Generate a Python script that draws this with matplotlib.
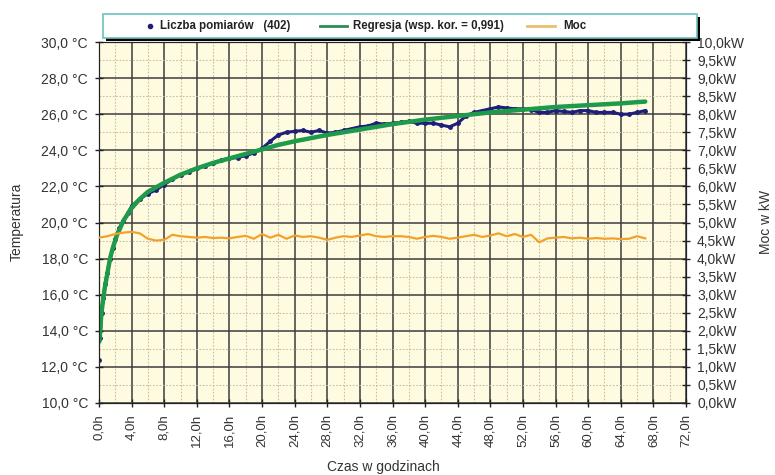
import matplotlib
matplotlib.use("Agg")
import matplotlib.pyplot as plt
from matplotlib.lines import Line2D
from matplotlib.patches import Rectangle

plt.rcParams["font.family"] = ["Liberation Sans", "DejaVu Sans"]

# --- dane ---
# pomiary temperatury (czas w h, temperatura w °C)
t_meas = [0.0, 0.17, 0.33, 0.5, 0.75, 1.0, 1.35, 1.7, 2.0, 2.5, 3.0, 3.5,
          4.0, 5.0, 6.0, 7.0, 8.0, 9.0, 10.0, 11.0, 12.0, 13.0, 14.0, 15.0,
          16.0, 17.0, 18.0, 19.0, 20.0, 21.0, 22.0, 23.0, 24.0, 25.0, 26.0,
          27.0, 28.0, 29.0, 30.0, 31.0, 32.0, 33.0, 34.0, 35.0, 36.0, 37.0,
          38.0, 39.0, 40.0, 41.0, 42.0, 43.0, 44.0, 45.0, 46.0, 47.0, 48.0,
          49.0, 50.0, 51.0, 52.0, 53.0, 54.0, 55.0, 56.0, 57.0, 58.0, 59.0,
          60.0, 61.0, 62.0, 63.0, 64.0, 65.0, 66.0, 67.0]
temp_meas = [12.4, 13.6, 15.0, 15.8, 16.6, 17.2, 18.0, 18.6, 19.1, 19.7, 20.1, 20.5,
             20.9, 21.3, 21.6, 21.8, 22.1, 22.4, 22.65, 22.8, 23.0, 23.15, 23.3, 23.45,
             23.55, 23.6, 23.7, 23.85, 24.1, 24.5, 24.85, 25.0, 25.05, 25.1, 25.0,
             25.1, 24.95, 25.0, 25.1, 25.2, 25.3, 25.35, 25.5, 25.45, 25.5, 25.55,
             25.6, 25.5, 25.5, 25.5, 25.4, 25.3, 25.5, 25.9, 26.1, 26.2, 26.3,
             26.4, 26.35, 26.3, 26.3, 26.25, 26.1, 26.1, 26.2, 26.15, 26.1, 26.2,
             26.2, 26.1, 26.1, 26.1, 26.0, 26.0, 26.1, 26.2]

# krzywa regresji
t_reg = [0.05, 0.15, 0.33, 0.5, 0.75, 1.0, 1.35, 1.7, 2.2, 3.0, 4.0, 5.0, 6.0,
         8.0, 10.0, 12.0, 14.0, 16.0, 18.0, 20.0, 22.0, 24.0, 28.0, 32.0, 36.0,
         40.0, 44.0, 48.0, 52.0, 56.0, 60.0, 64.0, 67.0]
temp_reg = [13.4, 14.2, 15.1, 15.7, 16.5, 17.1, 18.0, 18.6, 19.3, 20.1, 20.8, 21.3, 21.7,
            22.2, 22.65, 23.0, 23.3, 23.55, 23.8, 24.05, 24.3, 24.5, 24.85, 25.15, 25.45,
            25.7, 25.9, 26.1, 26.25, 26.4, 26.5, 26.6, 26.7]

# moc grzewcza (kW), co 1 h
t_pow = list(range(0, 68))
power = [4.58, 4.62, 4.68, 4.72, 4.74, 4.70, 4.55, 4.50, 4.52, 4.66,
         4.62, 4.60, 4.58, 4.60, 4.57, 4.58, 4.56, 4.60, 4.63, 4.55,
         4.68, 4.58, 4.66, 4.55, 4.64, 4.60, 4.62, 4.58, 4.52, 4.58,
         4.62, 4.60, 4.64, 4.68, 4.62, 4.60, 4.62, 4.62, 4.60, 4.55,
         4.60, 4.63, 4.60, 4.55, 4.58, 4.62, 4.66, 4.60, 4.64, 4.70,
         4.62, 4.68, 4.60, 4.66, 4.45, 4.56, 4.58, 4.60, 4.56, 4.58,
         4.55, 4.57, 4.55, 4.56, 4.54, 4.55, 4.62, 4.56]

x_ticks = list(range(0, 73, 4))
temp_ticks = list(range(10, 31, 2))
kw_ticks = [i * 0.5 for i in range(21)]

NAVY = "#1f1f7a"
GREEN = "#1d9a4a"
ORANGE = "#f2a22c"
TXT = "#333333"

W, H = 775, 475
fig = plt.figure(figsize=(W / 100, H / 100), dpi=100)
ax = fig.add_axes([99 / W, 1 - 403 / H, 587 / W, 361 / H])
ax.set_facecolor("#fffbe0")

ax.set_xlim(0, 72)
ax.set_ylim(10, 30)
ax.set_xticks(x_ticks)
ax.set_xticks(range(0, 73, 2), minor=True)
ax.set_yticks(temp_ticks)
ax.set_yticks(range(10, 31), minor=True)
ax.set_xticklabels([f"{v:.1f}".replace(".", ",") + "h" for v in x_ticks], rotation=90)
ax.set_yticklabels([f"{v:.1f}".replace(".", ",") + " °C" for v in temp_ticks])
ax.grid(which="major", color="#3c3c3c", lw=1.1)
ax.grid(which="minor", color="#c4c2a4", lw=0.8, ls=(0, (1.5, 1.5)))
ax.set_axisbelow(True)
ax.tick_params(which="major", direction="inout", length=6, width=1, colors="#222222",
               labelcolor=TXT, labelsize=10, pad=5)
ax.tick_params(axis="x", labelsize=9.5)
ax.tick_params(which="minor", length=0)
for s in ax.spines.values():
    s.set_color("#222222")

# pomiary (pierwszy punkt osobno, bez linii) i regresja
ax.plot(t_meas[1:], temp_meas[1:], color=NAVY, lw=2.2, zorder=3)
ax.plot(t_meas, temp_meas, "o", color=NAVY, ms=2.5, zorder=3)
ax.plot(t_reg, temp_reg, color=GREEN, lw=3.2, zorder=4, solid_capstyle="round")

# moc na osi prawej
ax2 = ax.twinx()
ax2.set_ylim(0, 10)
ax2.set_yticks(kw_ticks)
ax2.set_yticklabels([f"{v:.1f}".replace(".", ",") + "kW" for v in kw_ticks])
ax2.tick_params(direction="inout", length=6, width=1, colors="#222222",
                labelcolor=TXT, labelsize=10, pad=5)
ax2.plot(t_pow, power, color=ORANGE, lw=1.6, zorder=5)
for s in ax2.spines.values():
    s.set_color("#222222")

fig.text(17 / W, 1 - 222 / H, "Temperatura", rotation=90, ha="center", va="center",
         fontsize=10, color=TXT)
fig.text(766 / W, 1 - 222 / H, "Moc w kW", rotation=90, ha="center", va="center",
         fontsize=10, color=TXT)
fig.text(383 / W, 0.009, "Czas w godzinach", ha="center", va="baseline",
         fontsize=10, color=TXT)

# legenda rysowana recznie (ramka z cieniem)
def px(x, y):
    return x / W, 1 - y / H

lx, ly = px(103, 38)
fig.add_artist(Rectangle(px(106, 41), 594 / W, 24 / H, transform=fig.transFigure,
                         facecolor="black", edgecolor="none", zorder=10))
fig.add_artist(Rectangle((lx, ly), 594 / W, 24 / H, transform=fig.transFigure,
                         facecolor="white", edgecolor="#6cc0c0", lw=1.2, zorder=11))
yc = 1 - 26 / H
fig.add_artist(Line2D([150 / W], [yc], marker="o", ms=3, color=NAVY, ls="none",
                      transform=fig.transFigure, zorder=12))
fig.add_artist(Line2D([320 / W, 347 / W], [yc, yc], color="#2e8b57", lw=2,
                      transform=fig.transFigure, zorder=12))
fig.add_artist(Line2D([527 / W, 555 / W], [yc, yc], color="#e8c070", lw=2,
                      transform=fig.transFigure, zorder=12))
for x0, s in [(160, "Liczba pomiarów   (402)"), (353, "Regresja (wsp. kor. = 0,991)"),
              (563, "Moc")]:
    fig.text(x0 / W, yc, s, ha="left", va="center", fontsize=8.3, fontweight="bold",
             color="#222222", zorder=13)

fig.savefig("out.png", dpi=100)
